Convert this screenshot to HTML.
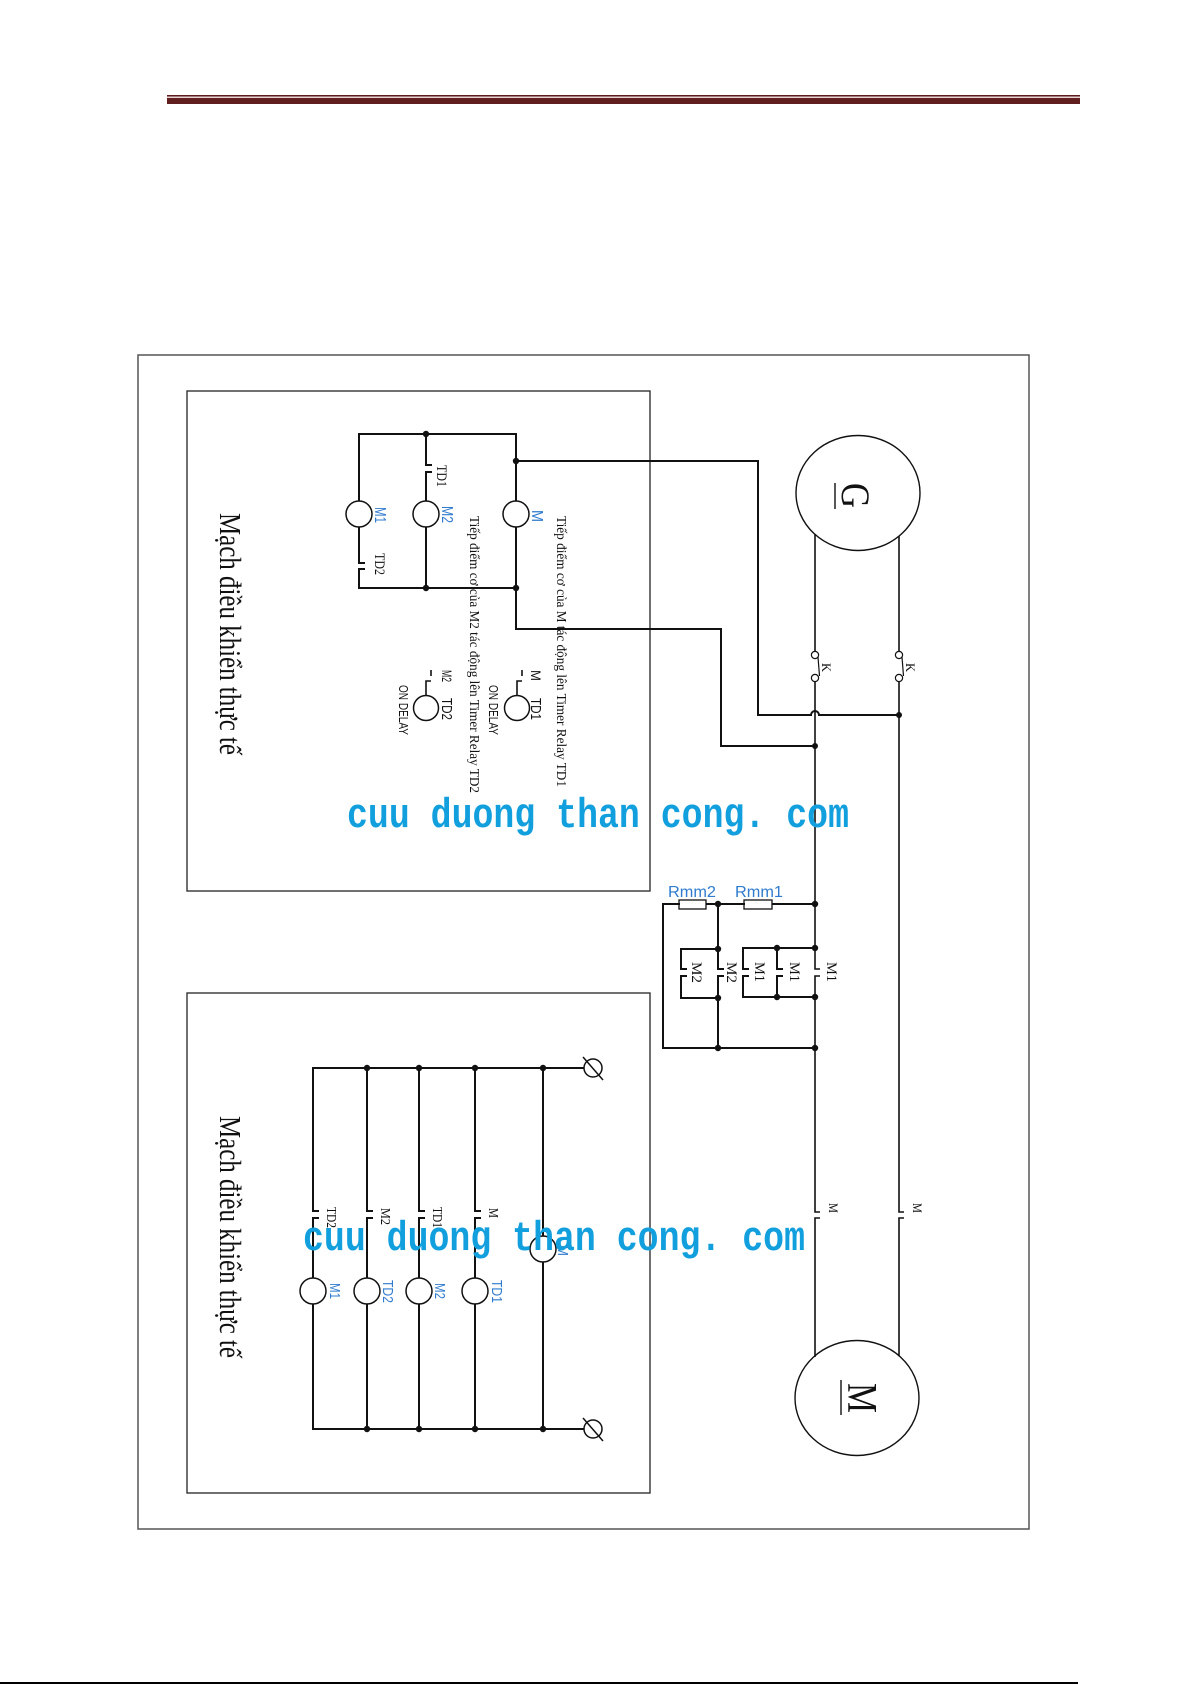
<!DOCTYPE html>
<html>
<head>
<meta charset="utf-8">
<style>
  html,body{margin:0;padding:0;background:#fff;}
  body{width:1192px;height:1685px;overflow:hidden;position:relative;}
  svg{position:absolute;left:0;top:0;}
  .w{stroke:#111;stroke-width:2;fill:none;stroke-linecap:square;}
  .t{stroke:#111;stroke-width:1.6;fill:none;}
  .c{stroke:#111;stroke-width:1.5;fill:#fff;}
  .d{fill:#111;}
  .ser{font-family:"Liberation Serif","DejaVu Serif",serif;fill:#111;}
  .san{font-family:"Liberation Sans","DejaVu Sans",sans-serif;fill:#111;}
  .blu{font-family:"Liberation Sans","DejaVu Sans",sans-serif;fill:#2e7bcf;}
  .wm{font-family:"Liberation Mono","DejaVu Sans Mono",monospace;font-weight:bold;fill:#129fde;}
</style>
</head>
<body>
<svg width="1192" height="1685" viewBox="0 0 1192 1685" xmlns="http://www.w3.org/2000/svg">
  <!-- header line -->
  <rect x="167" y="95" width="913" height="1.5" fill="#5b1c1c"/>
  <rect x="167" y="96.5" width="913" height="1.5" fill="#e8d6d6"/>
  <rect x="167" y="98" width="913" height="6" fill="#611f1f"/>

  <!-- bottom page line -->
  <rect x="0" y="1682" width="1078" height="2" fill="#000"/>

  <!-- outer border -->
  <rect x="138" y="355" width="891" height="1174" fill="none" stroke="#555" stroke-width="1.5"/>
  <!-- inner boxes -->
  <rect x="187" y="391" width="463" height="500" fill="none" stroke="#333" stroke-width="1.4"/>
  <rect x="187" y="993" width="463" height="500" fill="none" stroke="#333" stroke-width="1.4"/>

  <!-- ============ UPPER BOX CIRCUIT ============ -->
  <path class="w" d="M359 434 H516 V501"/>
  <path class="w" d="M359 434 V501"/>
  <path class="w" d="M359 527 V563 H364"/>
  <path class="w" d="M364 569 H359 V588 H516"/>
  <path class="w" d="M426 434 V465 H431"/>
  <path class="w" d="M431 472 H426 V501"/>
  <path class="w" d="M426 527 V588"/>
  <path class="w" d="M516 527 V629 H721 V746 H815"/>
  <path class="w" d="M516 461 H758 V715 H811 A4 4 0 0 1 819 715 H899"/>
  <circle class="c" cx="359" cy="514" r="13"/>
  <circle class="c" cx="426" cy="514" r="13"/>
  <circle class="c" cx="516" cy="514" r="13"/>
  <circle class="d" cx="426" cy="434" r="3.2"/>
  <circle class="d" cx="516" cy="461" r="3.2"/>
  <circle class="d" cx="426" cy="588" r="3.2"/>
  <circle class="d" cx="516" cy="588" r="3.2"/>

  <!-- timers -->
  <circle class="c" cx="517" cy="708" r="12.5"/>
  <path class="t" d="M517 695.5 V681 H522"/>
  <path class="t" d="M522 670 V676"/>
  <circle class="c" cx="426" cy="708" r="12.5"/>
  <path class="t" d="M426 695.5 V681 H431"/>
  <path class="t" d="M431 670 V676"/>

  <!-- upper box labels -->
  <text class="ser" font-size="15" textLength="22" lengthAdjust="spacingAndGlyphs" transform="translate(437,465) rotate(90)">TD1</text>
  <text class="blu" font-size="16" textLength="16" lengthAdjust="spacingAndGlyphs" transform="translate(375,507) rotate(90)">M1</text>
  <text class="blu" font-size="16" textLength="17" lengthAdjust="spacingAndGlyphs" transform="translate(442,506) rotate(90)">M2</text>
  <text class="blu" font-size="16" textLength="12" lengthAdjust="spacingAndGlyphs" transform="translate(532,510) rotate(90)">M</text>
  <text class="ser" font-size="15" textLength="22" lengthAdjust="spacingAndGlyphs" transform="translate(375,553) rotate(90)">TD2</text>
  <text class="ser" font-size="14" textLength="271" lengthAdjust="spacingAndGlyphs" transform="translate(557,516) rotate(90)">Tiếp điểm cơ của M tác động lên Timer Relay TD1</text>
  <text class="ser" font-size="14" textLength="277" lengthAdjust="spacingAndGlyphs" transform="translate(470,516) rotate(90)">Tiếp điểm cơ của M2 tác động lên Timer Relay TD2</text>
  <text class="san" font-size="14" textLength="11" lengthAdjust="spacingAndGlyphs" transform="translate(531,670) rotate(90)">M</text>
  <text class="san" font-size="15" textLength="22" lengthAdjust="spacingAndGlyphs" transform="translate(531,698) rotate(90)">TD1</text>
  <text class="san" font-size="13" textLength="50" lengthAdjust="spacingAndGlyphs" transform="translate(489,685) rotate(90)">ON DELAY</text>
  <text class="san" font-size="14" textLength="12" lengthAdjust="spacingAndGlyphs" transform="translate(442,670) rotate(90)">M2</text>
  <text class="san" font-size="15" textLength="22" lengthAdjust="spacingAndGlyphs" transform="translate(442,698) rotate(90)">TD2</text>
  <text class="san" font-size="13" textLength="50" lengthAdjust="spacingAndGlyphs" transform="translate(399,685) rotate(90)">ON DELAY</text>
  <text class="ser" font-size="31" textLength="242" lengthAdjust="spacingAndGlyphs" transform="translate(220,513) rotate(90)">Mạch điều khiển thực tế</text>

  <!-- ============ MOTORS & MAIN LINES ============ -->
  <ellipse cx="858" cy="493" rx="62" ry="57.5" fill="#fff" stroke="#111" stroke-width="1.4"/>
  <ellipse cx="857" cy="1398" rx="62" ry="57.5" fill="#fff" stroke="#111" stroke-width="1.4"/>
  <text class="ser" font-size="40" textLength="25" lengthAdjust="spacingAndGlyphs" transform="translate(842,483) rotate(90)">G</text>
  <line x1="835" y1="483" x2="835" y2="509" stroke="#111" stroke-width="1.4"/>
  <text class="ser" font-size="42" textLength="30" lengthAdjust="spacingAndGlyphs" transform="translate(848,1383) rotate(90)">M</text>
  <line x1="841" y1="1380" x2="841" y2="1415" stroke="#111" stroke-width="1.4"/>

  <path class="t" d="M815 534 V651.5"/>
  <path class="t" d="M815 681.5 V969 H820"/>
  <path class="t" d="M820 976 H815 V1212 H820"/>
  <path class="t" d="M820 1218 H815 V1357"/>
  <path class="t" d="M899 536 V651.5"/>
  <path class="t" d="M899 681.5 V1212 H904"/>
  <path class="t" d="M904 1218 H899 V1356"/>
  <circle cx="815" cy="655" r="3.6" fill="#fff" stroke="#111" stroke-width="1.2"/>
  <circle cx="815" cy="678" r="3.6" fill="#fff" stroke="#111" stroke-width="1.2"/>
  <line x1="818" y1="657" x2="819.5" y2="676" stroke="#111" stroke-width="1.2"/>
  <circle cx="899" cy="655" r="3.6" fill="#fff" stroke="#111" stroke-width="1.2"/>
  <circle cx="899" cy="678" r="3.6" fill="#fff" stroke="#111" stroke-width="1.2"/>
  <line x1="902" y1="657" x2="903.5" y2="676" stroke="#111" stroke-width="1.2"/>
  <text class="ser" font-size="13" textLength="9" lengthAdjust="spacingAndGlyphs" transform="translate(822,663) rotate(90)">K</text>
  <text class="ser" font-size="13" textLength="9" lengthAdjust="spacingAndGlyphs" transform="translate(906,663) rotate(90)">K</text>
  <circle class="d" cx="899" cy="715" r="3"/>
  <circle class="d" cx="815" cy="746" r="3"/>
  <text class="ser" font-size="13" textLength="10" lengthAdjust="spacingAndGlyphs" transform="translate(829,1203) rotate(90)">M</text>
  <text class="ser" font-size="13" textLength="10" lengthAdjust="spacingAndGlyphs" transform="translate(913,1203) rotate(90)">M</text>

  <!-- ============ Rmm / M1 / M2 block ============ -->
  <path class="w" d="M815 904 H772"/>
  <rect x="744" y="900" width="28" height="9" fill="#fff" stroke="#111" stroke-width="1.3"/>
  <path class="w" d="M744 904 H706"/>
  <rect x="679" y="900" width="27" height="9" fill="#fff" stroke="#111" stroke-width="1.3"/>
  <path class="w" d="M679 904 H663 V1048 H815"/>
  <path class="w" d="M718 904 V969 H723"/>
  <path class="w" d="M723 976 H718 V1048"/>
  <path class="w" d="M718 949 H681 V969 H686"/>
  <path class="w" d="M686 976 H681 V998 H718"/>
  <path class="w" d="M815 948 H743 V969 H748"/>
  <path class="w" d="M748 976 H743 V997 H815"/>
  <path class="w" d="M777 948 V969 H782"/>
  <path class="w" d="M782 976 H777 V997"/>
  <circle class="d" cx="815" cy="904" r="3.2"/>
  <circle class="d" cx="718" cy="904" r="3.2"/>
  <circle class="d" cx="718" cy="949" r="3.2"/>
  <circle class="d" cx="718" cy="998" r="3.2"/>
  <circle class="d" cx="718" cy="1048" r="3.2"/>
  <circle class="d" cx="815" cy="948" r="3.2"/>
  <circle class="d" cx="777" cy="948" r="3.2"/>
  <circle class="d" cx="777" cy="997" r="3.2"/>
  <circle class="d" cx="815" cy="997" r="3.2"/>
  <circle class="d" cx="815" cy="1048" r="3.2"/>
  <text class="blu" font-size="16" x="668" y="897" textLength="48" lengthAdjust="spacingAndGlyphs">Rmm2</text>
  <text class="blu" font-size="16" x="735" y="897" textLength="48" lengthAdjust="spacingAndGlyphs">Rmm1</text>
  <text class="ser" font-size="15" textLength="21" lengthAdjust="spacingAndGlyphs" transform="translate(692,962) rotate(90)">M2</text>
  <text class="ser" font-size="15" textLength="21" lengthAdjust="spacingAndGlyphs" transform="translate(727,962) rotate(90)">M2</text>
  <text class="ser" font-size="15" textLength="20" lengthAdjust="spacingAndGlyphs" transform="translate(755,962) rotate(90)">M1</text>
  <text class="ser" font-size="15" textLength="20" lengthAdjust="spacingAndGlyphs" transform="translate(790,962) rotate(90)">M1</text>
  <text class="ser" font-size="15" textLength="20" lengthAdjust="spacingAndGlyphs" transform="translate(827,962) rotate(90)">M1</text>

  <!-- ============ LOWER BOX CIRCUIT ============ -->
  <path class="w" d="M584 1068 H313 V1211 H318"/>
  <path class="w" d="M318 1218 H313 V1278"/>
  <path class="w" d="M313 1304 V1429 H584"/>
  <path class="w" d="M367 1068 V1211 H372"/>
  <path class="w" d="M372 1218 H367 V1278"/>
  <path class="w" d="M367 1304 V1429"/>
  <path class="w" d="M419 1068 V1211 H424"/>
  <path class="w" d="M424 1218 H419 V1278"/>
  <path class="w" d="M419 1304 V1429"/>
  <path class="w" d="M475 1068 V1211 H480"/>
  <path class="w" d="M480 1218 H475 V1278"/>
  <path class="w" d="M475 1304 V1429"/>
  <path class="w" d="M543 1068 V1236"/>
  <path class="w" d="M543 1262 V1429"/>
  <circle class="c" cx="313" cy="1291" r="13"/>
  <circle class="c" cx="367" cy="1291" r="13"/>
  <circle class="c" cx="419" cy="1291" r="13"/>
  <circle class="c" cx="475" cy="1291" r="13"/>
  <circle class="c" cx="543" cy="1249" r="13"/>
  <circle class="d" cx="367" cy="1068" r="3.2"/>
  <circle class="d" cx="419" cy="1068" r="3.2"/>
  <circle class="d" cx="475" cy="1068" r="3.2"/>
  <circle class="d" cx="543" cy="1068" r="3.2"/>
  <circle class="d" cx="367" cy="1429" r="3.2"/>
  <circle class="d" cx="419" cy="1429" r="3.2"/>
  <circle class="d" cx="475" cy="1429" r="3.2"/>
  <circle class="d" cx="543" cy="1429" r="3.2"/>
  <circle cx="593" cy="1068" r="9" fill="#fff" stroke="#111" stroke-width="1.5"/>
  <line x1="583" y1="1057" x2="603" y2="1080" stroke="#111" stroke-width="1.5"/>
  <circle cx="593" cy="1429" r="9" fill="#fff" stroke="#111" stroke-width="1.5"/>
  <line x1="583" y1="1418" x2="603" y2="1441" stroke="#111" stroke-width="1.5"/>
  <text class="ser" font-size="14" textLength="21" lengthAdjust="spacingAndGlyphs" transform="translate(327,1207) rotate(90)">TD2</text>
  <text class="ser" font-size="14" textLength="17" lengthAdjust="spacingAndGlyphs" transform="translate(381,1208) rotate(90)">M2</text>
  <text class="ser" font-size="14" textLength="21" lengthAdjust="spacingAndGlyphs" transform="translate(433,1207) rotate(90)">TD1</text>
  <text class="ser" font-size="14" textLength="10" lengthAdjust="spacingAndGlyphs" transform="translate(489,1208) rotate(90)">M</text>
  <text class="blu" font-size="15" textLength="16" lengthAdjust="spacingAndGlyphs" transform="translate(330,1283) rotate(90)">M1</text>
  <text class="blu" font-size="15" textLength="23" lengthAdjust="spacingAndGlyphs" transform="translate(383,1280) rotate(90)">TD2</text>
  <text class="blu" font-size="15" textLength="16" lengthAdjust="spacingAndGlyphs" transform="translate(435,1283) rotate(90)">M2</text>
  <text class="blu" font-size="15" textLength="23" lengthAdjust="spacingAndGlyphs" transform="translate(492,1280) rotate(90)">TD1</text>
  <text class="blu" font-size="15" textLength="11" lengthAdjust="spacingAndGlyphs" transform="translate(558,1245) rotate(90)">M</text>
  <text class="ser" font-size="31" textLength="242" lengthAdjust="spacingAndGlyphs" transform="translate(220,1116) rotate(90)">Mạch điều khiển thực tế</text>

  <!-- ============ WATERMARKS ============ -->
  <text class="wm" font-size="39" x="0" y="0" textLength="502" lengthAdjust="spacingAndGlyphs" transform="translate(347,827) scale(1,1.08)">cuu duong than cong. com</text>
  <text class="wm" font-size="39" x="0" y="0" textLength="502" lengthAdjust="spacingAndGlyphs" transform="translate(303,1250) scale(1,1.08)">cuu duong than cong. com</text>
</svg>
</body>
</html>
